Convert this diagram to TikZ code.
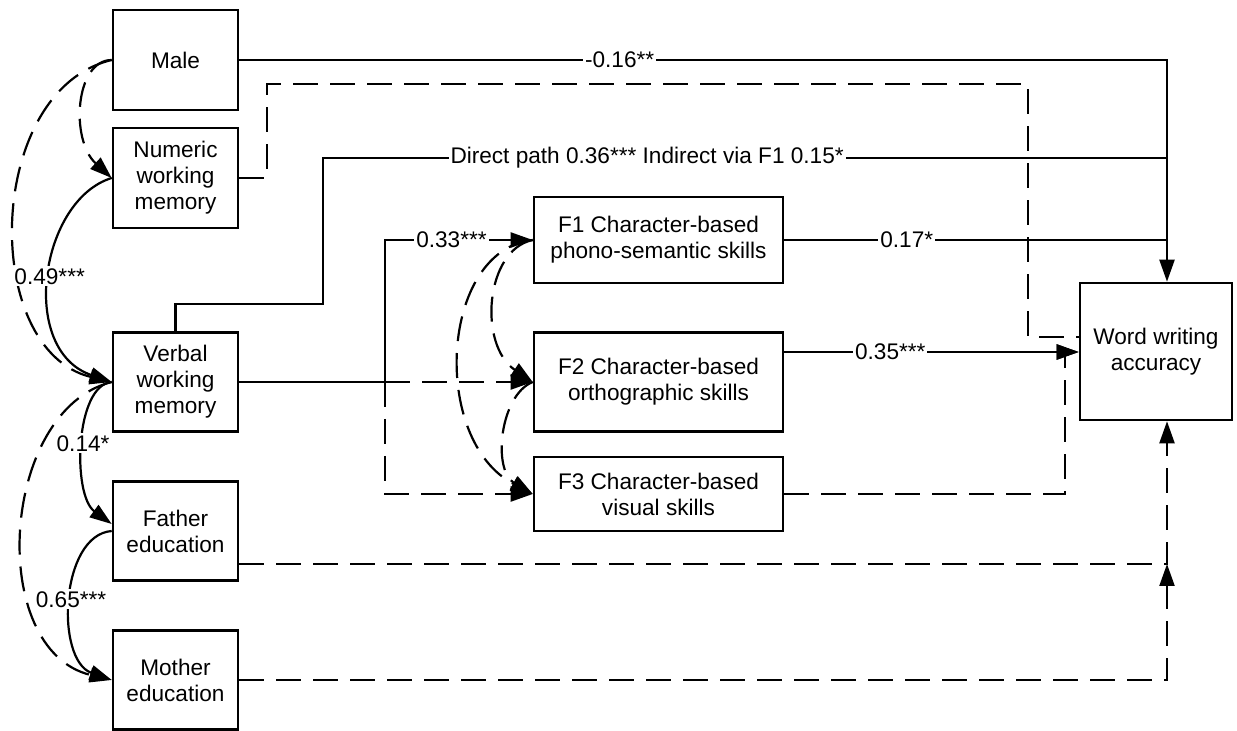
\documentclass[tikz,border=0pt]{standalone}
\usepackage{fontspec}
\setmainfont{Liberation Sans}
\usetikzlibrary{arrows.meta, positioning}
\tikzstyle{arrow} = [line width=1.1pt, -{Triangle[length=11pt,width=7.5pt]}]

\begin{document}
\begin{tikzpicture}[
        x=0.5pt, y=-0.5pt,
        every node/.style={font=\fontsize{11.3}{13}\selectfont},
        var/.style={rectangle, draw, line width=1.3pt, minimum width=62.5pt,
            minimum height=49.5pt, align=center, inner sep=2pt},
        factor/.style={var, minimum width=124.5pt},
        outcome/.style={var, minimum width=76pt, minimum height=68.5pt},
        line/.style={line width=1.1pt},
        dline/.style={line, dash pattern=on 12.5pt off 6pt},
        lab/.style={fill=white, inner sep=1pt}
    ]
    \useasboundingbox (0,0) rectangle (1237,731);
    \node (male) [var, minimum height=50pt] at (175.5,60)  {Male};
    \node (num)  [var, minimum height=50pt] at (175.5,178) {Numeric\\working\\memory};
    \node (verb) [var] at (175.5,382) {Verbal\\working\\memory};
    \node (fath) [var] at (175.5,531) {Father\\education};
    \node (moth) [var] at (175.5,680) {Mother\\education};
    \node (f1)   [factor, minimum height=43pt] at (658.5,240) {F1 Character-based\\phono-semantic skills};
    \node (f2)   [factor] at (658.5,382) {F2 Character-based\\orthographic skills};
    \node (f3)   [factor, minimum height=37pt] at (658.5,494) {F3 Character-based\\visual skills};
    \node (wwa)  [outcome] at (1156,351.5) {Word writing\\accuracy};
    \coordinate (jt)  at (1167,60);
    \coordinate (nu1) at (267,84);
    \coordinate (nu2) at (1028,84);
    \coordinate (nu3) at (1028,337);
    \coordinate (vd1) at (323,304);
    \coordinate (vd2) at (323,158);
    \coordinate (jd)  at (1167,158);
    \coordinate (vs)  at (385,382);
    \coordinate (jv)  at (1065,352);
    \coordinate (jf)  at (1167,564);
    % paths into word writing accuracy
    \draw [arrow] (male.east) -- node[lab,pos=.41] (lm) {-0.16**} (jt) -- (jt |- wwa.north);
    \draw [dline] (num.east) -| (nu1) -- (nu2) -- (nu3) -- (nu3 -| wwa.west);
    \draw [line] (verb.north) |- (vd1) -- (vd2)
        -- node[lab,pos=.384] (lv) {Direct path 0.36*** Indirect via F1 0.15*} (jd);
    \draw [line] (f1.east) -- node[lab,pos=.32] (lf1) {0.17*} (f1.east -| jt);
    \draw [arrow] (jv -| f2.east) -- node[lab,pos=.36] (lf2) {0.35***} (jv -| wwa.west);
    \draw [dline, arrow] (f3.east) -| (jv) -- (jv -| wwa.west);
    \draw [dline, arrow] (fath.east |- jf) -- (jf) -- (jf |- wwa.south);
    \draw [dline, arrow] (moth.east) -| (jf);
    % verbal memory to the factors
    \draw [line] (verb.east) -- (vs);
    \draw [arrow] (vs) |- node[lab,pos=.725] (lvs) {0.33***} (f1.west);
    \draw [dline, arrow] (vs) -- (f2.west);
    \draw [dline, arrow] (vs) |- (f3.west);
    \draw [dline, arrow] (f1.west) .. controls (485,250) and (478,345) .. (f2.west);
    \draw [dline, arrow] (f1.west) .. controls (440,250) and (430,440) .. (f3.west);
    \draw [dline, arrow] (f2.west) .. controls (500,395) and (492,470) .. (f3.west);
    % left side
    \draw [dline, arrow] (male.west) .. controls (75,60) and (70,140) .. (num.west);
    \draw [dline, arrow] (male.west) .. controls (-15,90) and (-20,350) .. (verb.west);
    \draw [dline, arrow] (verb.west) .. controls (0,410) and (-14,650) .. (moth.west);
    \draw [arrow] (num.west) .. controls (40,200) and (18,350)
        .. node[lab] (l49) {0.49***} (verb.west);
    \draw [arrow] (verb.west) .. controls (75,385) and (72,495)
        .. node[lab] (l14) {0.14*} ([yshift=3.5pt]fath.west);
    \draw [arrow] (fath.west) .. controls (60,535) and (55,660)
        .. node[lab] (l65) {0.65***} (moth.west);
\end{tikzpicture}
\end{document}
